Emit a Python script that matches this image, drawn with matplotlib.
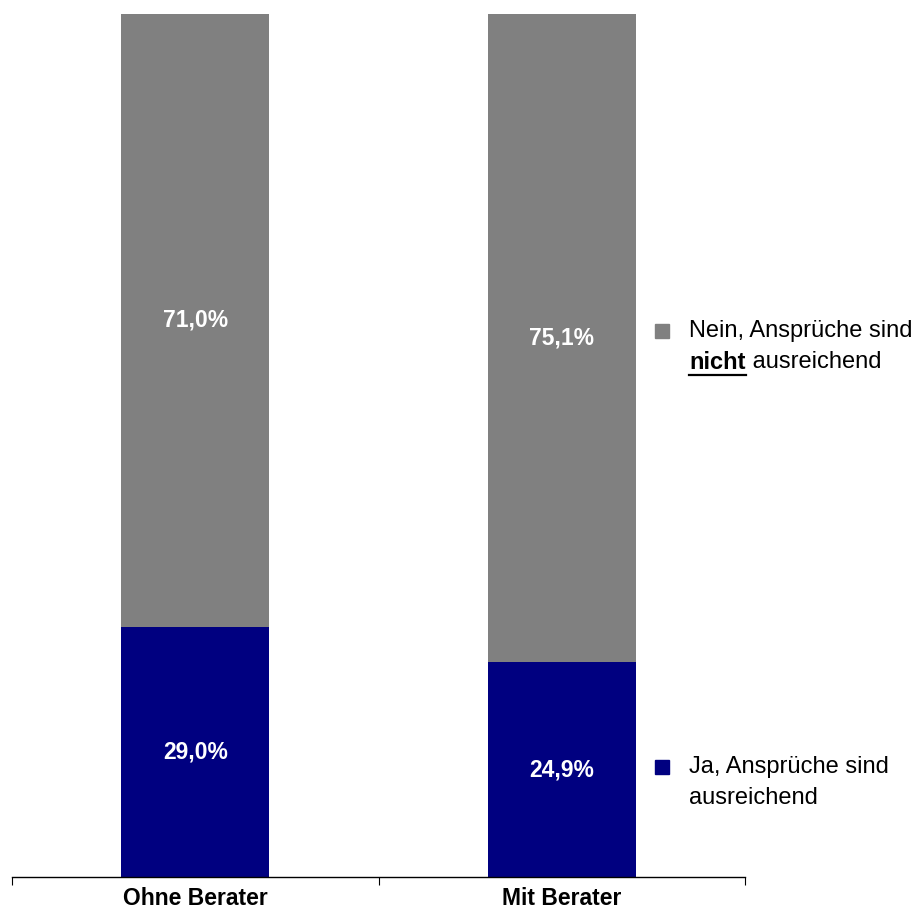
import matplotlib
matplotlib.use("Agg")
import matplotlib.pyplot as plt
from matplotlib.lines import Line2D
from matplotlib.patches import Rectangle

plt.rcParams['font.family'] = ['Liberation Sans', 'DejaVu Sans']

categories = ["Ohne Berater", "Mit Berater"]
ja_values = [29.0, 24.9]
nein_values = [71.0, 75.1]
legend_ja = "Ja, Ansprüche sind"
legend_ja2 = "ausreichend"
legend_nein = "Nein, Ansprüche sind"
legend_nein_bold = "nicht"
legend_nein_rest = " ausreichend"

W, H = 917, 909
fig = plt.figure(figsize=(W / 100, H / 100), dpi=100)
ax = fig.add_axes([12 / W, 32 / H, (745 - 12) / W, (877 - 14) / H])

navy = "#000080"
gray = "#808080"
x = list(range(len(categories)))
b1 = ax.bar(x, ja_values, width=0.404, color=navy)
b2 = ax.bar(x, nein_values, width=0.404, bottom=ja_values, color=gray)

fmt = lambda v: f"{v:.1f}%".replace('.', ',')
ax.bar_label(b1, labels=[fmt(v) for v in ja_values], label_type='center',
             color='white', fontweight='bold', fontsize=16.5)
ax.bar_label(b2, labels=[fmt(v) for v in nein_values], label_type='center',
             color='white', fontweight='bold', fontsize=16.5)

ax.set_xlim(-0.5, 1.5)
ax.set_ylim(0, 100)
for s in ['top', 'right', 'left']:
    ax.spines[s].set_visible(False)
ax.spines['bottom'].set_linewidth(1)
ax.set_yticks([])
ax.set_xticks(x)
ax.set_xticklabels(categories, fontweight='bold', fontsize=16.5)
ax.tick_params(axis='x', which='major', length=0, pad=7)
ax.set_xticks([-0.5, 0.5, 1.5], minor=True)
ax.tick_params(axis='x', which='minor', length=6, width=0.8, direction='out')


def fy(y):
    return 1 - y / H


# legend squares
for cx, cy, col in [(662, 331, gray), (662, 767, navy)]:
    fig.patches.append(Rectangle(((cx - 7) / W, fy(cy + 7)), 14 / W, 14 / H,
                                 transform=fig.transFigure, color=col))

fs = 17
fig.text(689 / W, fy(331), legend_nein, fontsize=fs, va='center', ha='left')
t_b = fig.text(689 / W, fy(362), legend_nein_bold, fontsize=fs, fontweight='bold',
               va='center', ha='left')
fig.canvas.draw()
bb = t_b.get_window_extent()
fig.text(bb.x1 / W, fy(362), legend_nein_rest, fontsize=fs, va='center', ha='left')
uy = (H - 375) / H
fig.lines.append(Line2D([bb.x0 / W, bb.x1 / W], [uy, uy], transform=fig.transFigure,
                        color='black', linewidth=1.6))

fig.text(689 / W, fy(767), legend_ja, fontsize=fs, va='center', ha='left')
fig.text(689 / W, fy(798), legend_ja2, fontsize=fs, va='center', ha='left')

fig.savefig("out.png", dpi=100)
